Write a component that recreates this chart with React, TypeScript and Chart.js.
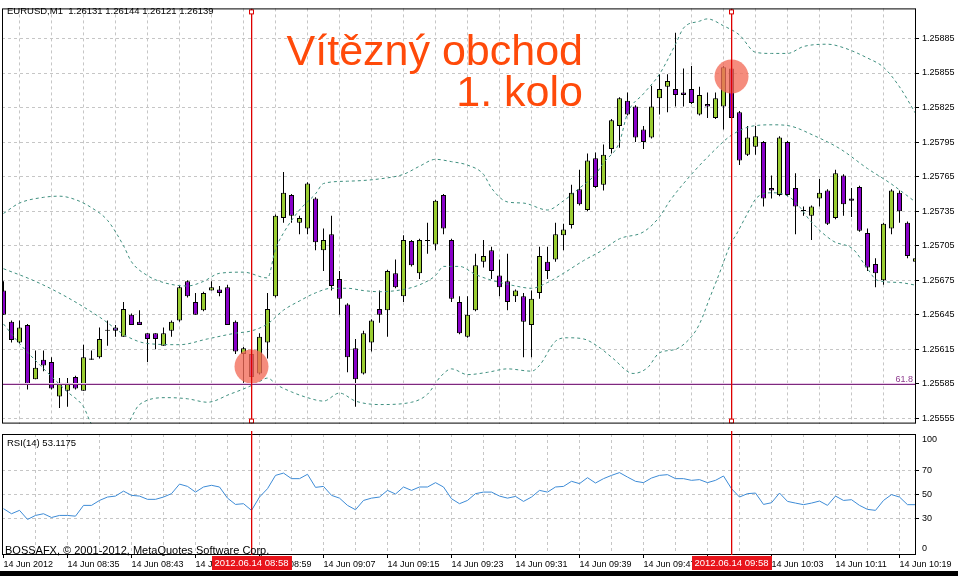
import React, { useEffect, useRef } from 'react';
import { Chart, registerables } from 'chart.js';

Chart.register(...registerables);

const FONT = '"Liberation Sans", Arial, sans-serif';

const infoText = 'EURUSD,M1  1.26131 1.26144 1.26121 1.26139';
const titleLine1 = 'Vítězný obchod';
const titleLine2 = '1. kolo';
const rsiLabel = 'RSI(14) 53.1175';
const copyright = 'BOSSAFX, © 2001-2012, MetaQuotes Software Corp.';

const tickLabels = [
  '14 Jun 2012', '14 Jun 08:35', '14 Jun 08:43', '14 Jun 08:51', '14 Jun 08:59',
  '14 Jun 09:07', '14 Jun 09:15', '14 Jun 09:23', '14 Jun 09:31', '14 Jun 09:39',
  '14 Jun 09:47', '14 Jun 09:55', '14 Jun 10:03', '14 Jun 10:11', '14 Jun 10:19',
];
const priceTicks = [1.25555, 1.25585, 1.25615, 1.25645, 1.25675, 1.25705, 1.25735, 1.25765, 1.25795, 1.25825, 1.25855, 1.25885];
const rsiTicks = [0, 30, 50, 70, 100];
const rsiGridLevels = [30, 50, 70];
const rsiEdgeLevels = [0, 100];

const opens = [
  1.25666, 1.25639, 1.25621, 1.25636, 1.25589, 1.25606, 1.25604, 1.25574, 1.25579, 1.25591,
  1.25579, 1.25606, 1.25608, 1.25631, 1.25634, 1.25626, 1.25645, 1.25639, 1.25629, 1.25629,
  1.25618, 1.25631, 1.25640, 1.25674, 1.25656, 1.25649, 1.25666, 1.25667, 1.25669, 1.25639,
  1.25611, 1.25611, 1.25594, 1.25621, 1.25661, 1.25729, 1.25749, 1.25725, 1.25720, 1.25746,
  1.25701, 1.25715, 1.25676, 1.25654, 1.25616, 1.25594, 1.25621, 1.25650, 1.25649, 1.25681,
  1.25661, 1.25709, 1.25681, 1.25709, 1.25706, 1.25749, 1.25710, 1.25656, 1.25626, 1.25649,
  1.25691, 1.25701, 1.25679, 1.25674, 1.25661, 1.25661, 1.25636, 1.25664, 1.25691, 1.25693,
  1.25714, 1.25723, 1.25754, 1.25736, 1.25781, 1.25758, 1.25789, 1.25809, 1.25831, 1.25826,
  1.25806, 1.25799, 1.25833, 1.25843, 1.25841, 1.25838, 1.25841, 1.25819, 1.25828, 1.25816,
  1.25826, 1.25859, 1.25821, 1.25784, 1.25791, 1.25795, 1.25755, 1.25749, 1.25795, 1.25755,
  1.25736, 1.25731, 1.25746, 1.25753, 1.25729, 1.25766, 1.25746, 1.25756, 1.25716, 1.25689,
  1.25675, 1.25720, 1.25751, 1.25725, 1.25691,
];
const highs = [
  1.25674, 1.25640, 1.25640, 1.25637, 1.25614, 1.25614, 1.25608, 1.25590, 1.25590, 1.25592,
  1.25619, 1.25614, 1.25634, 1.25640, 1.25636, 1.25656, 1.25646, 1.25649, 1.25629, 1.25629,
  1.25634, 1.25640, 1.25670, 1.25675, 1.25664, 1.25665, 1.25674, 1.25670, 1.25671, 1.25640,
  1.25617, 1.25612, 1.25629, 1.25664, 1.25732, 1.25769, 1.25750, 1.25731, 1.25760, 1.25747,
  1.25720, 1.25731, 1.25683, 1.25655, 1.25624, 1.25631, 1.25641, 1.25666, 1.25684, 1.25693,
  1.25714, 1.25710, 1.25711, 1.25725, 1.25745, 1.25750, 1.25711, 1.25661, 1.25661, 1.25698,
  1.25710, 1.25704, 1.25693, 1.25698, 1.25667, 1.25664, 1.25666, 1.25704, 1.25704, 1.25725,
  1.25724, 1.25758, 1.25771, 1.25785, 1.25786, 1.25793, 1.25815, 1.25834, 1.25838, 1.25827,
  1.25809, 1.25844, 1.25854, 1.25854, 1.25890, 1.25859, 1.25861, 1.25843, 1.25838, 1.25838,
  1.25861, 1.25861, 1.25822, 1.25809, 1.25809, 1.25796, 1.25766, 1.25800, 1.25796, 1.25768,
  1.25739, 1.25740, 1.25763, 1.25754, 1.25771, 1.25767, 1.25755, 1.25757, 1.25720, 1.25694,
  1.25725, 1.25754, 1.25753, 1.25726, 1.25695,
];
const lows = [
  1.25645, 1.25621, 1.25620, 1.25580, 1.25589, 1.25596, 1.25580, 1.25564, 1.25565, 1.25580,
  1.25579, 1.25606, 1.25607, 1.25618, 1.25626, 1.25626, 1.25636, 1.25636, 1.25604, 1.25615,
  1.25618, 1.25626, 1.25639, 1.25660, 1.25645, 1.25648, 1.25666, 1.25661, 1.25636, 1.25611,
  1.25586, 1.25590, 1.25593, 1.25607, 1.25660, 1.25725, 1.25725, 1.25715, 1.25715, 1.25701,
  1.25683, 1.25666, 1.25645, 1.25595, 1.25565, 1.25593, 1.25613, 1.25638, 1.25626, 1.25668,
  1.25656, 1.25687, 1.25676, 1.25698, 1.25701, 1.25715, 1.25656, 1.25628, 1.25625, 1.25648,
  1.25686, 1.25676, 1.25661, 1.25649, 1.25656, 1.25608, 1.25608, 1.25659, 1.25676, 1.25691,
  1.25701, 1.25720, 1.25740, 1.25735, 1.25755, 1.25753, 1.25785, 1.25790, 1.25818, 1.25795,
  1.25789, 1.25798, 1.25819, 1.25821, 1.25826, 1.25826, 1.25828, 1.25818, 1.25816, 1.25815,
  1.25806, 1.25815, 1.25775, 1.25783, 1.25784, 1.25739, 1.25746, 1.25748, 1.25748, 1.25715,
  1.25731, 1.25710, 1.25739, 1.25723, 1.25728, 1.25731, 1.25730, 1.25717, 1.25683, 1.25669,
  1.25671, 1.25715, 1.25725, 1.25694, 1.25686,
];
const closes = [
  1.25645, 1.25623, 1.25634, 1.25585, 1.25599, 1.25601, 1.25581, 1.25586, 1.25586, 1.25581,
  1.25608, 1.25607, 1.25624, 1.25632, 1.25631, 1.25650, 1.25636, 1.25636, 1.25624, 1.25624,
  1.25629, 1.25639, 1.25669, 1.25661, 1.25645, 1.25664, 1.25669, 1.25664, 1.25636, 1.25613,
  1.25616, 1.25591, 1.25626, 1.25650, 1.25731, 1.25751, 1.25731, 1.25729, 1.25759, 1.25708,
  1.25710, 1.25670, 1.25659, 1.25608, 1.25589, 1.25629, 1.25640, 1.25645, 1.25683, 1.25669,
  1.25710, 1.25688, 1.25710, 1.25710, 1.25744, 1.25720, 1.25659, 1.25629, 1.25645, 1.25688,
  1.25696, 1.25683, 1.25669, 1.25656, 1.25666, 1.25639, 1.25659, 1.25696, 1.25683, 1.25715,
  1.25719, 1.25751, 1.25741, 1.25779, 1.25756, 1.25784, 1.25814, 1.25833, 1.25819, 1.25799,
  1.25795, 1.25826, 1.25841, 1.25848, 1.25836, 1.25836, 1.25829, 1.25836, 1.25826, 1.25833,
  1.25860, 1.25816, 1.25779, 1.25799, 1.25800, 1.25746, 1.25753, 1.25799, 1.25749, 1.25739,
  1.25735, 1.25739, 1.25751, 1.25724, 1.25768, 1.25741, 1.25744, 1.25718, 1.25686, 1.25681,
  1.25724, 1.25753, 1.25735, 1.25696, 1.25694,
];

const rsi = [
  38.3, 34.1, 36.9, 29.4, 32.7, 34.1, 31.0, 32.7, 32.7, 32.1,
  41.0, 41.0, 45.1, 47.9, 48.7, 52.8, 49.3, 48.7, 46.0, 46.0,
  47.9, 50.7, 58.6, 56.7, 52.0, 56.2, 57.6, 56.2, 47.0, 41.8,
  42.4, 36.9, 47.9, 54.8, 65.8, 67.7, 63.1, 63.1, 66.7, 55.9,
  56.7, 49.3, 47.0, 41.0, 37.4, 45.1, 47.0, 47.9, 53.4, 50.4,
  56.2, 53.4, 56.2, 56.2, 59.8, 56.2, 46.5, 42.4, 45.1, 50.7,
  52.0, 52.0, 48.7, 47.0, 48.4, 44.3, 47.9, 53.4, 52.0, 56.2,
  56.7, 60.9, 59.0, 63.9, 59.5, 63.1, 65.8, 68.1, 64.4, 60.9,
  59.8, 63.6, 65.8, 66.4, 63.1, 63.1, 61.7, 62.3, 59.8, 61.7,
  65.3, 54.8, 47.9, 50.7, 51.2, 41.8, 43.2, 51.2, 44.3, 42.9,
  41.6, 42.9, 44.6, 41.0, 48.7, 45.1, 45.7, 41.0, 37.7, 36.9,
  45.1, 49.9, 47.9, 41.6, 41.6,
];

// Bollinger bands: [bar, price]
const upperBand = [
  [0, 1.25733], [2, 1.25742], [5, 1.25747], [7, 1.25748], [9, 1.25745], [11, 1.25738], [13, 1.25727],
  [15, 1.25705], [16, 1.25691], [18, 1.25679], [20, 1.25673], [23, 1.25670], [25, 1.25674], [27, 1.25681],
  [30, 1.25682], [33, 1.25677], [34, 1.25702], [35, 1.25716], [37, 1.25736], [39, 1.25750], [40, 1.25759],
  [43, 1.25761], [47, 1.25763], [50, 1.25767], [52, 1.25774], [54, 1.25780], [56, 1.25778], [58, 1.25775],
  [60, 1.25767], [61, 1.25755], [63, 1.25743], [65, 1.25742], [68, 1.25736], [70, 1.25744], [72, 1.25755],
  [74, 1.25767], [75, 1.25777], [77, 1.25795], [78, 1.25820], [80, 1.25837], [82, 1.25854], [84, 1.25880],
  [85, 1.25894], [87, 1.25900], [88, 1.25902], [90, 1.25896], [92, 1.25888], [94, 1.25873], [96, 1.25872],
  [98, 1.25872], [100, 1.25878], [103, 1.25880], [105, 1.25877], [108, 1.25868], [110, 1.25860],
  [112, 1.25843], [114, 1.25820],
];
const middleBand = [
  [0, 1.25685], [4, 1.25674], [8, 1.25660], [12, 1.25643], [15.5, 1.25626], [18, 1.25620], [22, 1.25619],
  [25.5, 1.25624], [29, 1.25629], [31, 1.25631], [33, 1.25637], [35, 1.25649], [37, 1.25657], [39, 1.25664],
  [41, 1.25668], [43, 1.25668], [45, 1.25666], [47, 1.25665], [50, 1.25667], [52, 1.25671], [54, 1.25679],
  [55, 1.25687], [57, 1.25687], [59, 1.25680], [61, 1.25675], [64, 1.25670], [66, 1.25668], [68, 1.25673],
  [70, 1.25681], [72.5, 1.25692], [74.6, 1.25700], [77, 1.25711], [80, 1.25717], [82, 1.25730],
  [83.3, 1.25744], [86, 1.25767], [88.3, 1.25784], [91, 1.25801], [93.7, 1.25809], [96.2, 1.25810],
  [98.3, 1.25809], [101.2, 1.25801], [104.6, 1.25789], [108, 1.25772], [110.9, 1.25759], [113.8, 1.25744],
];
const lowerBand = [
  [0, 1.25637], [2, 1.25620], [4.6, 1.25601], [8, 1.25578], [10, 1.25565], [11, 1.25550], [13, 1.25538],
  [15.5, 1.25550], [17, 1.25567], [20.5, 1.25573], [23, 1.25572], [25.5, 1.25569], [28.3, 1.25576],
  [30.5, 1.25582], [32, 1.25587], [33, 1.25590], [34.2, 1.25584], [36, 1.25578], [38, 1.25573], [40, 1.25570],
  [42, 1.25577], [44, 1.25570], [47, 1.25567], [51, 1.25569], [53, 1.25576], [54.6, 1.25591], [56, 1.25598],
  [58, 1.25593], [60.5, 1.25595], [63, 1.25598], [66, 1.25596], [67, 1.25601], [69, 1.25622], [70.5, 1.25625],
  [72.5, 1.25624], [74.6, 1.25616], [76.2, 1.25607], [78.7, 1.25594], [80.5, 1.25599], [82, 1.25612],
  [84, 1.25615], [86, 1.25626], [87, 1.25637], [88.3, 1.25660], [89.6, 1.25683], [90.8, 1.25705],
  [91.7, 1.25716], [93, 1.25733], [94.2, 1.25747], [96.2, 1.25751], [98.3, 1.25747], [99.6, 1.25738],
  [100.8, 1.25727], [103.7, 1.25709], [106.2, 1.25702], [108, 1.25685], [109.2, 1.25675], [112, 1.25673],
  [113.8, 1.25671],
];

const fibLevel = 1.25585;
const fibLabel = '61.8';
const tradeBars = [31, 91];
const tradeTimes = ['2012.06.14 08:58', '2012.06.14 09:58'];
const entryCircles = [
  { bar: 31, price: 1.256 },
  { bar: 91, price: 1.25852 },
];

// view window (bars / prices at the plot edges)
const X_MIN = -0.1875;
const X_MAX = 114.0625;
const Y_MIN = 1.2555045;
const Y_MAX = 1.2591112;

const BULL = '#9acd32';
const BEAR = '#8800c8';
const BAND = '#3f8f7f';
const GRID = '#c6c6c6';
const RED = '#dd0000';
const RED_EDGE = 'rgba(230, 40, 40, 0.35)';

const xTickValues = Array.from({ length: tickLabels.length * 2 - 1 }, (_, i) => i * 4);

function hLine(ctx: CanvasRenderingContext2D, color: string, x1: number, x2: number, y: number) {
  ctx.fillStyle = color;
  ctx.fillRect(x1, y, x2 - x1, 1);
}
function redLine(ctx: CanvasRenderingContext2D, x: number, y1: number, y2: number) {
  ctx.fillStyle = RED_EDGE;
  ctx.fillRect(x + 1, y1, 1, y2 - y1);
  ctx.fillStyle = RED;
  ctx.fillRect(x, y1, 1, y2 - y1);
}
function handle(ctx: CanvasRenderingContext2D, x: number, y: number) {
  // small hollow square centred on the line column x
  ctx.fillStyle = RED;
  ctx.fillRect(x - 2, y, 5, 5);
  ctx.fillStyle = '#fff';
  ctx.fillRect(x - 1, y + 1, 3, 3);
}

const mainOverlay = {
  id: 'mainOverlay',
  afterDatasetsDraw(chart: any) {
    const { ctx, chartArea: a, scales } = chart;
    const xs = scales.x;
    const ys = scales.y;
    ctx.save();
    ctx.beginPath();
    ctx.rect(a.left, a.top, a.right - a.left, a.bottom - a.top);
    ctx.clip();
    const fy = Math.round(ys.getPixelForValue(fibLevel));
    hLine(ctx, '#e8c8e8', a.left, a.right, fy - 1);
    hLine(ctx, '#7d2a7d', a.left, a.right, fy);
    ctx.fillStyle = '#8e3b8e';
    ctx.font = `9px ${FONT}`;
    ctx.textAlign = 'right';
    ctx.textBaseline = 'alphabetic';
    ctx.fillText(fibLabel, a.right - 3, fy - 2);
    tradeBars.forEach((b) => {
      const px = Math.floor(xs.getPixelForValue(b));
      redLine(ctx, px, a.top, a.bottom);
      handle(ctx, px, a.top + 1);
      handle(ctx, px, a.bottom - 5);
    });
    ctx.restore();
    ctx.save();
    ctx.strokeStyle = '#000';
    ctx.lineWidth = 1;
    ctx.setLineDash([]);
    ctx.strokeRect(a.left + 0.5, a.top + 0.5, a.right - a.left - 1, a.bottom - a.top - 1);
    ctx.restore();
  },
};

const rsiOverlay = {
  id: 'rsiOverlay',
  afterDraw(chart: any) {
    const { ctx, chartArea: a, scales } = chart;
    const xs = scales.x;
    const ys = scales.y;
    ctx.save();
    ctx.lineWidth = 1;
    ctx.setLineDash([]);
    ctx.strokeStyle = '#000';
    ctx.strokeRect(a.left + 0.5, a.top + 0.5, a.right - a.left - 1, a.bottom - a.top - 1);
    // the 0 / 100 labels sit just inside the panel, as in the terminal
    ctx.fillStyle = '#000';
    ctx.font = `9px ${FONT}`;
    ctx.textAlign = 'left';
    ctx.textBaseline = 'middle';
    rsiEdgeLevels.forEach((v) => {
      const py = ys.getPixelForValue(v);
      const shift = v === 0 ? -6 : 6;
      ctx.fillText(String(v), a.right + 6, py + shift);
    });
    tradeBars.forEach((b, i) => {
      const px = Math.floor(xs.getPixelForValue(b));
      redLine(ctx, px, a.top - 3, a.bottom);
      ctx.font = `9.5px ${FONT}`;
      const w = Math.round(ctx.measureText(tradeTimes[i]).width + 6);
      ctx.fillStyle = '#e8141b';
      ctx.fillRect(Math.round(px + 0.5 - w / 2), a.bottom + 1, w, 14);
      ctx.fillStyle = '#fff';
      ctx.textAlign = 'center';
      ctx.textBaseline = 'middle';
      ctx.fillText(tradeTimes[i], px + 0.5, a.bottom + 8.5);
    });
    ctx.restore();
  },
};

function mainConfig(): any {
  const idx = opens.map((_, k) => k);
  return {
    type: 'bar',
    data: {
      datasets: [
        {
          type: 'line',
          data: entryCircles.map((c) => ({ x: c.bar, y: c.price })),
          showLine: false,
          pointRadius: 17,
          pointHoverRadius: 17,
          pointBackgroundColor: 'rgba(242, 108, 88, 0.78)',
          pointBorderWidth: 0,
          order: 0,
        },
        ...[upperBand, middleBand, lowerBand].map((band) => ({
          type: 'line',
          data: band.map(([b, p]) => ({ x: b, y: p })),
          borderColor: BAND,
          borderWidth: 1,
          borderDash: [3, 3],
          pointRadius: 0,
          cubicInterpolationMode: 'monotone',
          order: 1,
        })),
        {
          type: 'bar',
          data: idx.map((k) => ({ x: k, y: [opens[k], closes[k]] })),
          backgroundColor: idx.map((k) => (closes[k] >= opens[k] ? BULL : BEAR)),
          borderColor: '#000',
          borderWidth: 1,
          borderSkipped: false,
          inflateAmount: 0,
          grouped: false,
          barThickness: 5,
          maxBarThickness: 5,
          order: 2,
        },
        {
          type: 'bar',
          data: idx.map((k) => ({ x: k, y: [lows[k], highs[k]] })),
          backgroundColor: '#000',
          borderWidth: 0,
          inflateAmount: 0,
          grouped: false,
          barThickness: 1,
          maxBarThickness: 1,
          order: 3,
        },
      ],
    },
    options: {
      responsive: false,
      animation: false,
      devicePixelRatio: 1,
      events: [],
      layout: { autoPadding: false, padding: { left: 2, top: 2, right: 0, bottom: 2 } },
      plugins: { legend: { display: false }, tooltip: { enabled: false } },
      scales: {
        x: {
          type: 'linear',
          min: X_MIN,
          max: X_MAX,
          offset: false,
          afterBuildTicks: (s: any) => {
            s.ticks = xTickValues.map((v) => ({ value: v }));
          },
          afterFit: (s: any) => {
            s.height = 0;
          },
          ticks: { display: false },
          grid: {
            color: (c: any) => (c.tick && c.tick.value === 0 ? 'rgba(0,0,0,0)' : GRID),
            drawTicks: false,
            lineWidth: 1,
          },
          border: { display: false, dash: [3, 3] },
        },
        y: {
          type: 'linear',
          position: 'right',
          min: Y_MIN,
          max: Y_MAX,
          afterBuildTicks: (s: any) => {
            s.ticks = priceTicks.map((v) => ({ value: v }));
          },
          afterFit: (s: any) => {
            s.width = 42;
          },
          ticks: {
            autoSkip: false,
            padding: 3,
            color: '#000',
            font: { family: FONT, size: 9 },
            callback: (v: any) => Number(v).toFixed(5),
          },
          grid: { color: GRID, tickColor: '#000', tickLength: 3, lineWidth: 1 },
          border: { display: false, dash: [3, 3] },
        },
      },
    },
    plugins: [mainOverlay],
  };
}

function rsiConfig(): any {
  return {
    type: 'line',
    data: {
      datasets: [
        {
          data: rsi.map((v, k) => ({ x: k, y: v })),
          borderColor: '#3d8bd6',
          borderWidth: 1,
          pointRadius: 0,
          tension: 0,
        },
      ],
    },
    options: {
      responsive: false,
      animation: false,
      devicePixelRatio: 1,
      events: [],
      layout: { autoPadding: false, padding: { left: 2, top: 9, right: 0, bottom: 4 } },
      plugins: { legend: { display: false }, tooltip: { enabled: false } },
      scales: {
        x: {
          type: 'linear',
          min: X_MIN,
          max: X_MAX,
          offset: false,
          afterBuildTicks: (s: any) => {
            s.ticks = xTickValues.map((v) => ({ value: v }));
          },
          afterFit: (s: any) => {
            s.height = 17;
          },
          ticks: {
            autoSkip: false,
            maxRotation: 0,
            minRotation: 0,
            align: 'start',
            padding: 1,
            color: '#000',
            font: { family: FONT, size: 9 },
            callback: (v: any) => {
              const k = Number(v);
              return k % 8 === 0 ? tickLabels[k / 8] : '';
            },
          },
          grid: {
            color: (c: any) => (c.tick && c.tick.value === 0 ? 'rgba(0,0,0,0)' : GRID),
            tickColor: (c: any) => (c.tick && c.tick.value % 8 === 0 ? '#000' : 'rgba(0,0,0,0)'),
            tickLength: 3,
            lineWidth: 1,
          },
          border: { display: false, dash: [3, 3] },
        },
        y: {
          type: 'linear',
          position: 'right',
          min: 0,
          max: 100,
          afterBuildTicks: (s: any) => {
            s.ticks = rsiTicks.map((v) => ({ value: v }));
          },
          afterFit: (s: any) => {
            s.width = 42;
          },
          ticks: {
            autoSkip: false,
            padding: 3,
            color: '#000',
            font: { family: FONT, size: 9 },
            callback: (v: any) => (rsiEdgeLevels.includes(Number(v)) ? '' : String(v)),
          },
          grid: {
            color: (c: any) => (c.tick && rsiGridLevels.includes(c.tick.value) ? GRID : 'rgba(0,0,0,0)'),
            tickColor: (c: any) => (c.tick && rsiGridLevels.includes(c.tick.value) ? '#000' : 'rgba(0,0,0,0)'),
            tickLength: 3,
            lineWidth: 1,
          },
          border: { display: false, dash: [3, 3] },
        },
      },
    },
    plugins: [rsiOverlay],
  };
}

export default function App() {
  const mainRef = useRef<HTMLCanvasElement>(null);
  const rsiRef = useRef<HTMLCanvasElement>(null);

  useEffect(() => {
    const main = new Chart(mainRef.current as HTMLCanvasElement, mainConfig());
    const rsiChart = new Chart(rsiRef.current as HTMLCanvasElement, rsiConfig());
    return () => {
      main.destroy();
      rsiChart.destroy();
    };
  }, []);

  const abs: React.CSSProperties = { position: 'absolute', whiteSpace: 'pre' };

  return (
    <div
      style={{
        position: 'absolute',
        left: 0,
        top: 0,
        width: 958,
        height: 576,
        background: '#fff',
        overflow: 'hidden',
        fontFamily: FONT,
        color: '#000',
      }}
    >
      <canvas ref={mainRef} width={958} height={432} style={{ position: 'absolute', left: 0, top: 0 }} />
      <canvas ref={rsiRef} width={958} height={151} style={{ position: 'absolute', left: 0, top: 425 }} />
      <div style={{ ...abs, left: 7, top: 5, fontSize: 9.5, lineHeight: '12px' }}>{infoText}</div>
      <div
        style={{
          ...abs,
          left: 0,
          width: 583,
          top: 29,
          textAlign: 'right',
          fontSize: 43,
          lineHeight: '43px',
          color: '#ff4a0a',
        }}
      >
        {titleLine1}
      </div>
      <div
        style={{
          ...abs,
          left: 0,
          width: 583,
          top: 70,
          textAlign: 'right',
          fontSize: 43,
          lineHeight: '43px',
          color: '#ff4a0a',
        }}
      >
        {titleLine2}
      </div>
      <div style={{ ...abs, left: 7, top: 437, fontSize: 9.5, lineHeight: '12px' }}>{rsiLabel}</div>
      <div style={{ ...abs, left: 5, top: 544, fontSize: 11, lineHeight: '13px' }}>{copyright}</div>
      <div style={{ position: 'absolute', left: 0, top: 571, width: 958, height: 5, background: '#000' }} />
    </div>
  );
}
